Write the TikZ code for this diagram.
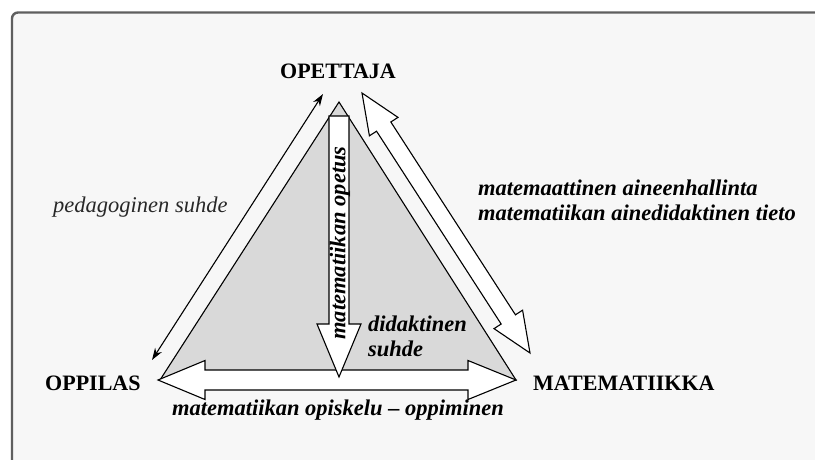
\documentclass[tikz,border=0pt]{standalone}
\usepackage{fontspec}
\setmainfont{Liberation Serif}
\usetikzlibrary{arrows.meta}
\definecolor{bgc}{RGB}{247,247,247}
\definecolor{framec}{RGB}{95,95,95}
\definecolor{trif}{RGB}{217,217,217}
\definecolor{pedc}{RGB}{40,40,40}
\begin{document}
\begin{tikzpicture}[x=1pt,y=-1pt,
  lab/.style={font=\fontsize{22}{25}\selectfont\bfseries, inner sep=0pt},
  itl/.style={font=\fontsize{22.5}{25}\selectfont\bfseries\itshape, inner sep=0pt},
  pedlab/.style={font=\fontsize{22.5}{25}\selectfont\itshape, text=pedc, inner sep=0pt},
  blockarrow/.style={draw=black, fill=white, line width=1.1pt, line join=miter},
  pedarrow/.style={draw=black, line width=1.1pt, {Stealth[length=12pt,width=8pt]}-{Stealth[length=12pt,width=8pt]}},
  tri/.style={fill=trif, draw=black, line width=1.1pt, line join=miter}]
\useasboundingbox (0,0) rectangle (815,459);
\fill[white] (0,0) rectangle (815,459);
\filldraw[fill=bgc, draw=framec, line width=2.4pt, rounded corners=6pt] (12,12.5) rectangle (840,480);

% triangle vertices
\coordinate (A) at (339,102);
\coordinate (B) at (160,380);
\coordinate (C) at (516,380);
\filldraw[tri] (A) -- (B) -- (C) -- cycle;

% pedagogical thin double arrow
\coordinate (t1) at (323,94);
\coordinate (t2) at (152,360);
\draw[pedarrow] (t1) -- (t2);

% right diagonal block double arrow
\coordinate (U) at (362,93);
\coordinate (L) at (530,353);
\filldraw[blockarrow] (U) -- (397.98,117.37) -- (390.84,121.98) -- (515.44,314.80)
  -- (522.58,310.19) -- (L) -- (494.02,328.63) -- (501.16,324.02)
  -- (376.56,131.20) -- (369.42,135.81) -- cycle;

% horizontal block double arrow
\coordinate (hl) at (158,380);
\coordinate (hr) at (516,380);
\filldraw[blockarrow] (hl) -- (205,360.5) -- (205,370) -- (468,370) -- (468,360.5)
  -- (hr) -- (468,399.5) -- (468,390) -- (205,390) -- (205,399.5) -- cycle;

% vertical block arrow
\coordinate (vt) at (339,116);
\coordinate (vb) at (339,377);
\filldraw[blockarrow] (329,116) -- (349,116) -- (349,324) -- (361,324) -- (vb)
  -- (317,324) -- (329,324) -- cycle;

\node[itl, rotate=90] (opetus) at (340,243) {matematiikan opetus};

% labels
\node[lab, anchor=base] (opettaja) at (338,78) {OPETTAJA};
\node[lab, anchor=base west] (oppilas) at (45,390) {OPPILAS};
\node[lab, anchor=base west] (mat) at (533,390) {MATEMATIIKKA};

\node[pedlab, anchor=base west] (ped) at (53,212) {pedagoginen suhde};
\node[itl, anchor=base west] (mt1) at (478,195) {matemaattinen aineenhallinta};
\node[itl, anchor=base west] (mt2) at (478,220) {matematiikan ainedidaktinen tieto};
\node[itl, anchor=base west] (did1) at (368,331) {didaktinen};
\node[itl, anchor=base west] (did2) at (368,356) {suhde};
\node[itl, anchor=base] (opisk) at (338,415) {matematiikan opiskelu – oppiminen};
\end{tikzpicture}
\end{document}
